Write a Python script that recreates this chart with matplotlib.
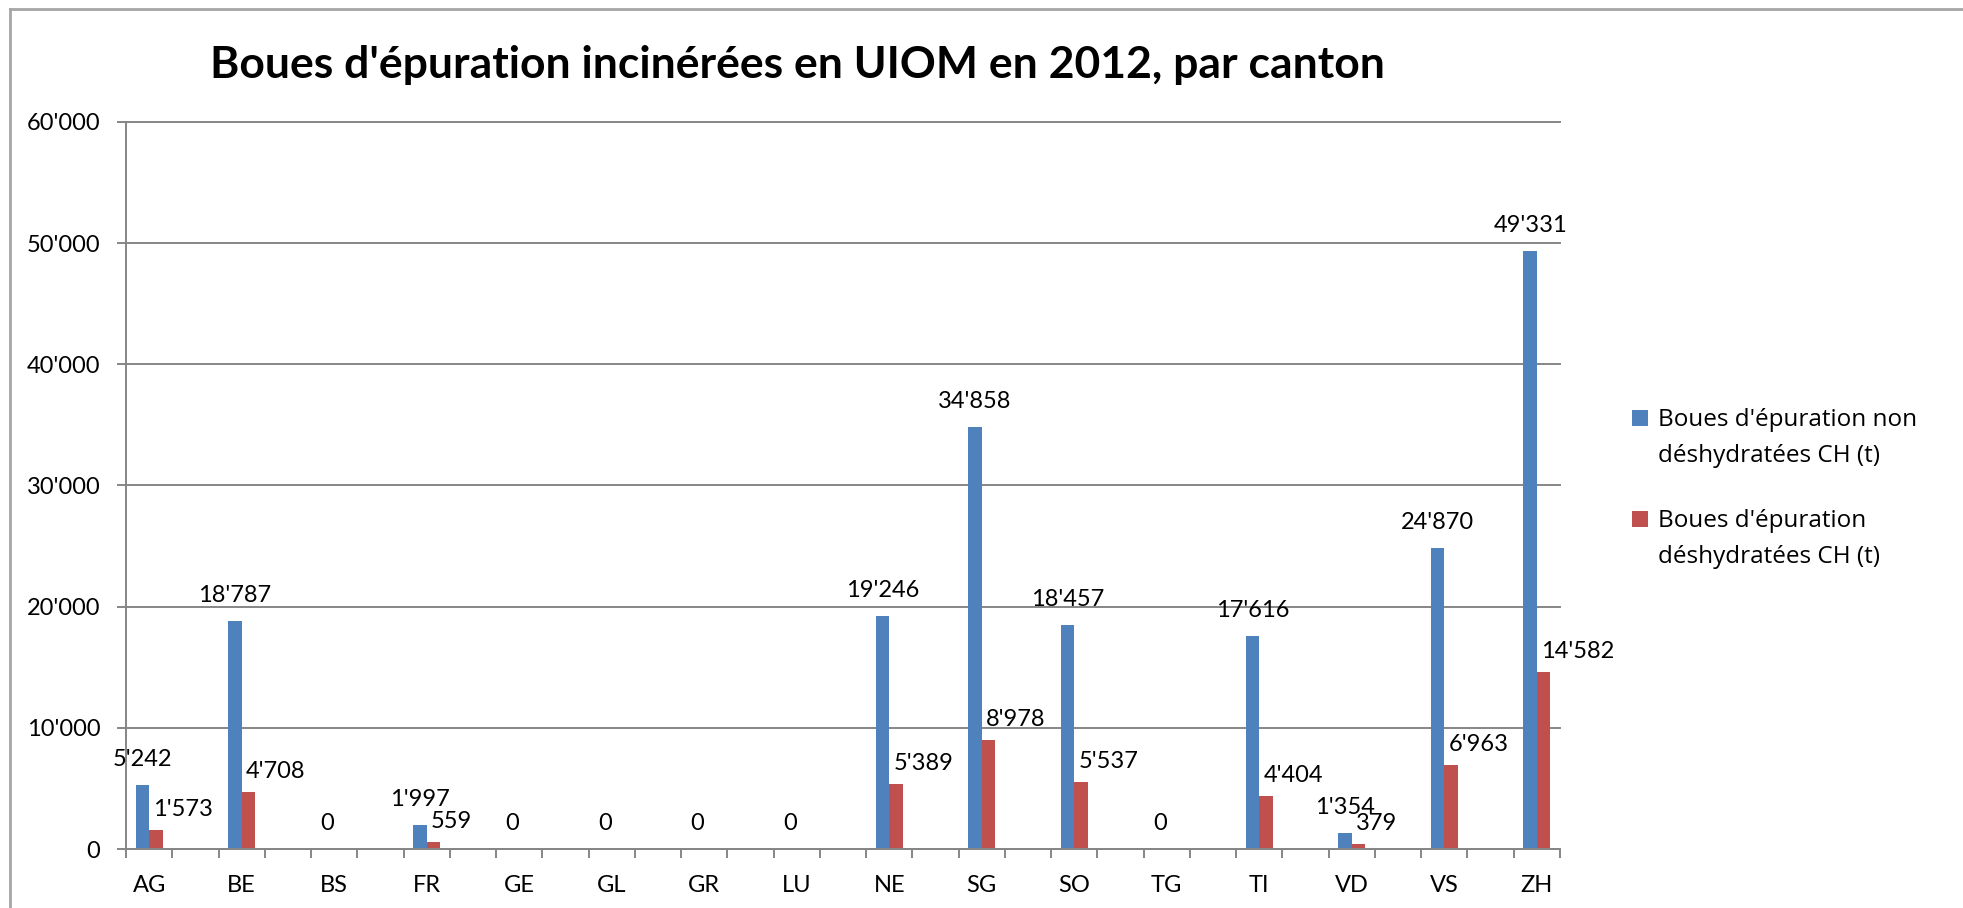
import matplotlib
matplotlib.use("Agg")
import matplotlib.pyplot as plt
import numpy as np
from matplotlib.ticker import FuncFormatter
from matplotlib.lines import Line2D
from matplotlib.patches import Rectangle

# ---------------- data ----------------
cantons = ["AG", "BE", "BS", "FR", "GE", "GL", "GR", "LU",
           "NE", "SG", "SO", "TG", "TI", "VD", "VS", "ZH"]
non_deshydratees = [5242, 18787, 0, 1997, 0, 0, 0, 0,
                    19246, 34858, 18457, 0, 17616, 1354, 24870, 49331]
deshydratees = [1573, 4708, 0, 559, 0, 0, 0, 0,
                5389, 8978, 5537, 0, 4404, 379, 6963, 14582]
series_names = [["Boues d'épuration non", "déshydratées CH (t)"],
                ["Boues d'épuration", "déshydratées CH (t)"]]
title = "Boues d'épuration incinérées en UIOM en 2012, par canton"
yticks = [0, 10000, 20000, 30000, 40000, 50000, 60000]

# ---------------- style ----------------
W, H = 1963, 908
PX = 72 / 100  # points per pixel at dpi 100
BLUE = "#4F81BD"
RED = "#C0504D"
GRAY = "#868686"
FONT = "Lato"
FS = 17

plt.rcParams["font.family"] = [FONT, "DejaVu Sans"]

fig = plt.figure(figsize=(W / 100, H / 100), dpi=100)
fig.patch.set_facecolor("white")

left, right, bottom, top = 126, 1560, 849, 122
ax = fig.add_axes([left / W, 1 - bottom / H, (right - left) / W, (bottom - top) / H])

pos = np.arange(len(cantons)) * 2  # every canton followed by an empty slot
bw = 0.29
ax.bar(pos - bw / 2, non_deshydratees, width=bw, color=BLUE, zorder=3)
ax.bar(pos + bw / 2, deshydratees, width=bw, color=RED, zorder=3)

ax.set_xlim(-0.5, pos[-1] + 0.5)
ax.set_ylim(yticks[0], yticks[-1])

# y axis
ax.set_yticks(yticks)
ax.yaxis.set_major_formatter(FuncFormatter(lambda v, p: f"{int(v):,}".replace(",", "'")))
ax.tick_params(axis="y", length=9 * PX, width=1.4, color=GRAY, pad=12,
               labelsize=FS, labelcolor="black")
ax.grid(axis="y", color=GRAY, linewidth=1.4, zorder=1)
for ln in ax.get_ygridlines():
    ln.set_clip_on(False)

# x axis: labels on canton slots, tick marks on every slot boundary
ax.set_xticks(pos)
ax.set_xticklabels(cantons)
ax.tick_params(axis="x", which="major", length=0, pad=19, labelsize=FS, labelcolor="black")
ax.set_xticks(np.arange(-0.5, pos[-1] + 1, 1.0), minor=True)
ax.tick_params(axis="x", which="minor", length=9 * PX, width=1.4, color=GRAY)

for s in ["top", "right"]:
    ax.spines[s].set_visible(False)
for s in ["left", "bottom"]:
    ax.spines[s].set_color(GRAY)
    ax.spines[s].set_linewidth(1.4)
    ax.spines[s].set_zorder(4)

# data labels
for x, v in zip(pos, non_deshydratees):
    ax.annotate(f"{v:,}".replace(",", "'"), xy=(x - bw / 2, v),
                xytext=(0, 19 * PX), textcoords="offset points",
                ha="center", va="baseline", fontsize=FS, color="black", zorder=5)
for x, v in zip(pos, deshydratees):
    if v == 0:
        continue
    ax.annotate(f"{v:,}".replace(",", "'"), xy=(x, v),
                xytext=(4 * PX, 14 * PX), textcoords="offset points",
                ha="left", va="baseline", fontsize=FS, color="black", zorder=5)

# title
fig.text(797 / W, 1 - 78 / H, title, ha="center", va="baseline",
         fontsize=32, fontweight="bold", color="black")

# legend (drawn manually, marker aligned with first text line)
legend_rows = [(BLUE, 426, series_names[0]), (RED, 527, series_names[1])]
for color, base, lines in legend_rows:
    fig.add_artist(Rectangle((1632 / W, 1 - (base) / H), 16 / W, 16 / H,
                             transform=fig.transFigure, facecolor=color,
                             edgecolor="none"))
    for k, t in enumerate(lines):
        fig.text(1658 / W, 1 - (base + 36 * k) / H, t, ha="left", va="baseline",
                 fontsize=17.5, color="black", family=["Open Sans", "DejaVu Sans"])

# outer chart frame (left and top edges visible)
fig.add_artist(Line2D([10 / W, 10 / W], [0, 1 - 9 / H], transform=fig.transFigure,
                      color="#A6A6A6", linewidth=2))
fig.add_artist(Line2D([10 / W, 1], [1 - 9 / H, 1 - 9 / H], transform=fig.transFigure,
                      color="#A6A6A6", linewidth=2))

fig.savefig("out.png", dpi=100, facecolor="white")
